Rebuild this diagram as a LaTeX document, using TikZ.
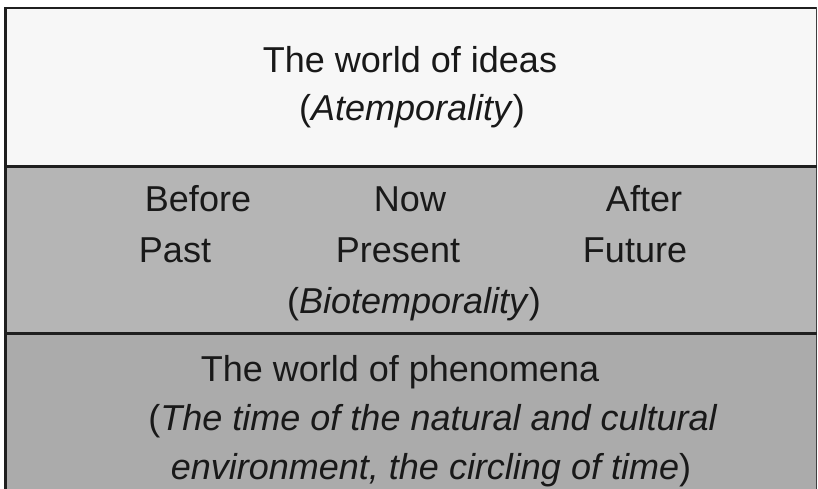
\documentclass[tikz,border=0pt]{standalone}
\usepackage{fontspec}
\setmainfont{Liberation Sans}
\begin{document}
\begin{tikzpicture}[x=1pt,y=1pt,
  label/.style={anchor=base,inner sep=0pt,font=\fontsize{36}{40}\selectfont,text=black!90},
  rule/.style={draw=black!88,line width=2.2pt}]
\useasboundingbox (0,0) rectangle (818,489);
% bands
\fill[white!97!black] (5,0+489-166.5) rectangle (817,489-8);
\fill[black!29] (5,489-333.5) rectangle (817,489-166.5);
\fill[black!33] (5,0) rectangle (817,489-333.5);
% frame and dividers
\draw[rule] (4,489-8) -- (817,489-8);
\draw[draw=black!88,line width=3pt] (5.5,0) -- (5.5,489-7);
\draw[draw=black!75,line width=1.4pt] (816.5,0) -- (816.5,489-7);
\draw[rule] (5,489-166.5) -- (817,489-166.5);
\draw[rule] (5,489-333.5) -- (817,489-333.5);
% the world of ideas
\node[label] (ideas) at (410,489-73) {The world of ideas};
\node[label] (atemp) at (412,489-121) {(\textit{Atemporality})};
% biotemporality
\node[label] (before) at (198,489-212) {Before};
\node[label] (now) at (410,489-212) {Now};
\node[label] (after) at (644,489-212) {After};
\node[label] (past) at (175,489-263) {Past};
\node[label] (present) at (398,489-263) {Present};
\node[label] (future) at (635,489-263) {Future};
\node[label] (biotemp) at (414,489-314) {(\textit{Biotemporality})};
% the world of phenomena
\node[label] (phen) at (400,489-382) {The world of phenomena};
\node[label] (phen2) at (433,489-431) {(\textit{The time of the natural and cultural}};
\node[label] (phen3) at (431,489-480) {\textit{environment, the circling of time})};
\end{tikzpicture}
\end{document}
